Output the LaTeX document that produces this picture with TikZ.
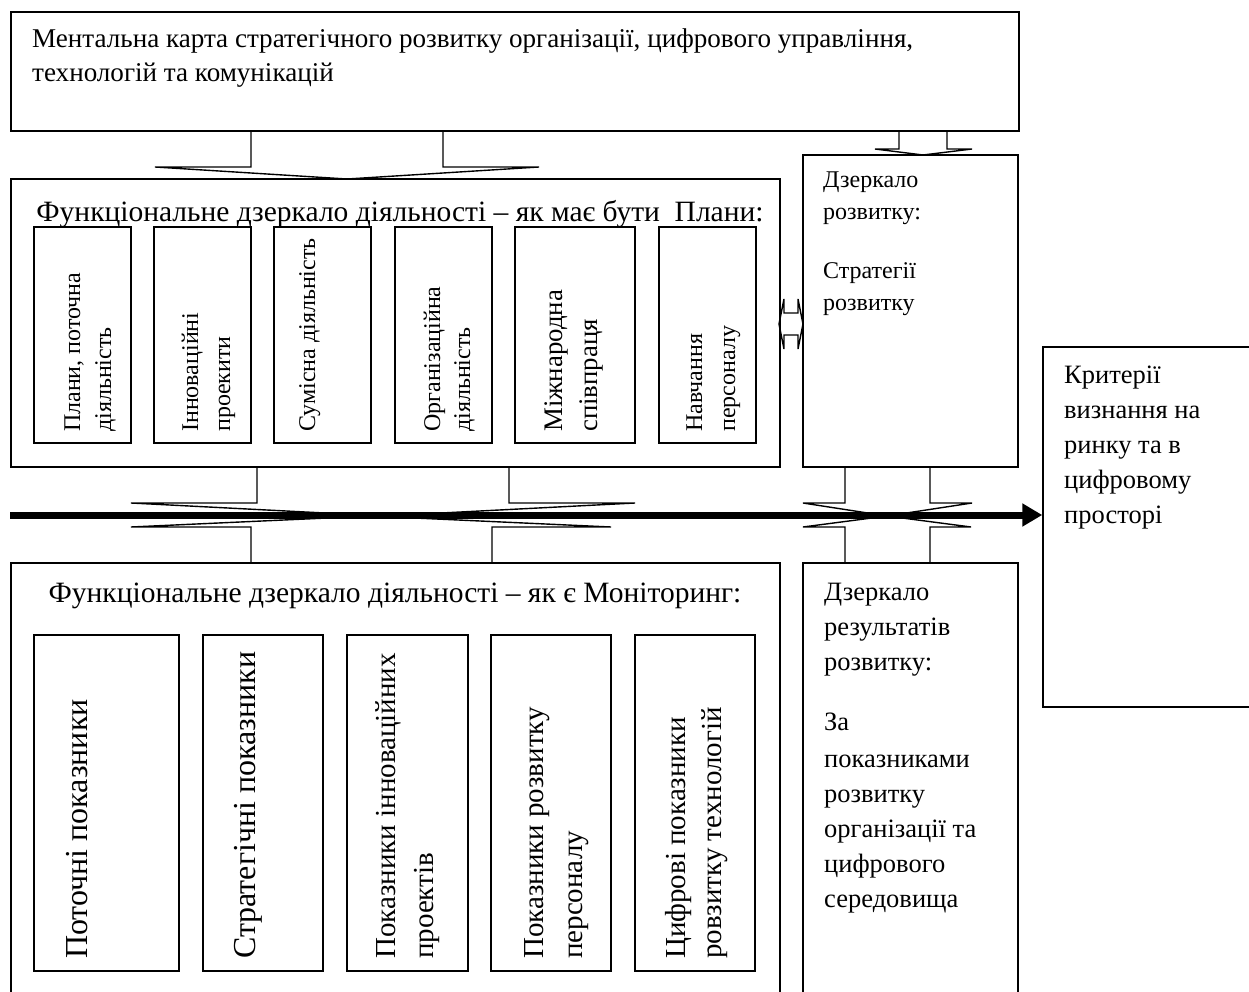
\documentclass[tikz,border=0pt]{standalone}
\usepackage{fontspec}
\setmainfont{Liberation Serif}
\usetikzlibrary{fit,arrows.meta}
\newcommand\fsTop{\fontsize{27.1}{34}\selectfont}
\newcommand\fsTitle{\fontsize{29.5}{34}\selectfont}
\newcommand\fsSmall{\fontsize{24}{30}\selectfont}
\newcommand\fsMid{\fontsize{26.8}{32}\selectfont}
\newcommand\fsSide{\fontsize{26.5}{35}\selectfont}
\newcommand\fsBig{\fontsize{32}{38}\selectfont}
\newcommand\fsVb{\fontsize{29}{36}\selectfont}
\begin{document}
\begin{tikzpicture}[x=1pt,y=-1pt,
  box/.style={draw, line width=1.5pt, inner sep=0pt},
  ln/.style={line width=1.4pt, line join=miter},
  txt/.style={inner sep=0pt, anchor=base west},
  vtxt/.style={inner sep=0pt, anchor=base west, rotate=90},
  ttl/.style={inner sep=0pt, anchor=base, font=\fsTitle}]
\useasboundingbox (0,0) rectangle (1249,992);

% ---------- boxes ----------
\node[box, fit={(11,12) (1019,131)}] (mental) {};
\node[box, fit={(11,179) (780,467)}] (plan) {};
\node[box, fit={(803,155) (1018,467)}] (dev) {};
\node[box, fit={(1043,347) (1265,707)}] (crit) {};
\node[box, fit={(11,563) (780,1005)}] (mon) {};
\node[box, fit={(803,563) (1018,1005)}] (res) {};

% upper small boxes
\node[box, fit={(34,227) (131,443)}] (p1) {};
\node[box, fit={(154,227) (251,443)}] (p2) {};
\node[box, fit={(274,227) (371,443)}] (p3) {};
\node[box, fit={(395,227) (492,443)}] (p4) {};
\node[box, fit={(515,227) (635,443)}] (p5) {};
\node[box, fit={(659,227) (756,443)}] (p6) {};

% lower small boxes
\node[box, fit={(34,635) (179,971)}] (q1) {};
\node[box, fit={(203,635) (323,971)}] (q2) {};
\node[box, fit={(347,635) (468,971)}] (q3) {};
\node[box, fit={(491,635) (611,971)}] (q4) {};
\node[box, fit={(635,635) (755,971)}] (q5) {};

% ---------- texts ----------
\node[txt, font=\fsTop] (m1) at (32,48) {Ментальна карта стратегічного розвитку організації, цифрового управління,};
\node[txt, font=\fsTop] (m2) at (32,82) {технологій та комунікацій};

\node[ttl] (plantitle) at (400,222) {Функціональне дзеркало діяльності – як має бути\ \ Плани:};
\node[ttl] (montitle) at (395,602) {Функціональне дзеркало діяльності – як є Моніторинг:};

\node[vtxt, font=\fsSmall] (p1a) at (80,432) {Плани, поточна};
\node[vtxt, font=\fsSmall] (p1b) at (111,432) {діяльність};
\node[vtxt, font=\fsSmall] (p2a) at (198,432) {Інноваційні};
\node[vtxt, font=\fsSmall] (p2b) at (230,432) {проекити};
\node[vtxt, font=\fsSmall] (p3a) at (315,432) {Сумісна діяльність};
\node[vtxt, font=\fsSmall] (p4a) at (440,432) {Організаційна};
\node[vtxt, font=\fsSmall] (p4b) at (470,432) {діяльність};
\node[vtxt, font=\fsMid] (p5a) at (562,432) {Міжнародна};
\node[vtxt, font=\fsMid] (p5b) at (597,432) {співпраця};
\node[vtxt, font=\fsSmall] (p6a) at (702,432) {Навчання};
\node[vtxt, font=\fsSmall] (p6b) at (735,432) {персоналу};

\node[vtxt, font=\fsBig] (q1a) at (87,959) {Поточні показники};
\node[vtxt, font=\fsBig] (q2a) at (255,959) {Стратегічні показники};
\node[vtxt, font=\fsVb] (q3a) at (395,959) {Показники інноваційних};
\node[vtxt, font=\fsVb] (q3b) at (433,959) {проектів};
\node[vtxt, font=\fsVb] (q4a) at (543,959) {Показники розвитку};
\node[vtxt, font=\fsVb] (q4b) at (582,959) {персоналу};
\node[vtxt, font=\fsVb] (q5a) at (685,959) {Цифрові показники};
\node[vtxt, font=\fsVb] (q5b) at (721,959) {ровзитку технологій};

\node[txt, font=\fsSmall] (d1) at (823,188) {Дзеркало};
\node[txt, font=\fsSmall] (d2) at (823,220) {розвитку:};
\node[txt, font=\fsSmall] (d3) at (823,278) {Стратегії};
\node[txt, font=\fsSmall] (d4) at (823,310) {розвитку};

\node[txt, font=\fsSide] (c1) at (1064,383) {Критерії};
\node[txt, font=\fsSide] (c2) at (1064,418) {визнання на};
\node[txt, font=\fsSide] (c3) at (1064,453) {ринку та в};
\node[txt, font=\fsSide] (c4) at (1064,488) {цифровому};
\node[txt, font=\fsSide] (c5) at (1064,523) {просторі};

\node[txt, font=\fsSide] (r1) at (824,600) {Дзеркало};
\node[txt, font=\fsSide] (r2) at (824,635) {результатів};
\node[txt, font=\fsSide] (r3) at (824,670) {розвитку:};
\node[txt, font=\fsSide] (r4) at (824,730) {За};
\node[txt, font=\fsSide] (r5) at (824,767) {показниками};
\node[txt, font=\fsSide] (r6) at (824,802) {розвитку};
\node[txt, font=\fsSide] (r7) at (824,837) {організації та};
\node[txt, font=\fsSide] (r8) at (824,872) {цифрового};
\node[txt, font=\fsSide] (r9) at (824,907) {середовища};

% ---------- block arrows ----------
% mental -> plan
\draw[ln] (251,131) -- (251,167) -- (155,167) -- (347,179) -- (539,167) -- (443,167) -- (443,131);
% mental -> dev
\draw[ln] (899,131) -- (899,149) -- (875,149) -- (923,155) -- (972,149) -- (947,149) -- (947,131);
% plan <-> dev
\draw[ln] (784,299) -- (784,313) -- (798,313) -- (798,299) -- (803,324) -- (798,349) -- (798,335)
  -- (784,335) -- (784,349) -- (779,324) -- cycle;

% crossing arrows, left pair
\draw[ln] (257,467) -- (257,503) -- (131,503) -- (383,516) -- (635,503) -- (509,503) -- (509,467);
\draw[ln] (251,563) -- (251,527) -- (131,527) -- (371,516) -- (611,527) -- (492,527) -- (492,563);
% crossing arrows, right pair
\draw[ln] (845,467) -- (845,503) -- (803,503) -- (887,516) -- (972,503) -- (930,503) -- (930,467);
\draw[ln] (845,563) -- (845,527) -- (803,527) -- (887,516) -- (971,527) -- (930,527) -- (930,563);

% main flow arrow
\coordinate (flowstart) at (10,515);
\draw[line width=7pt, -{Triangle[length=20pt,width=22pt]}] (flowstart) -- (crit.west |- flowstart);
\end{tikzpicture}
\end{document}
